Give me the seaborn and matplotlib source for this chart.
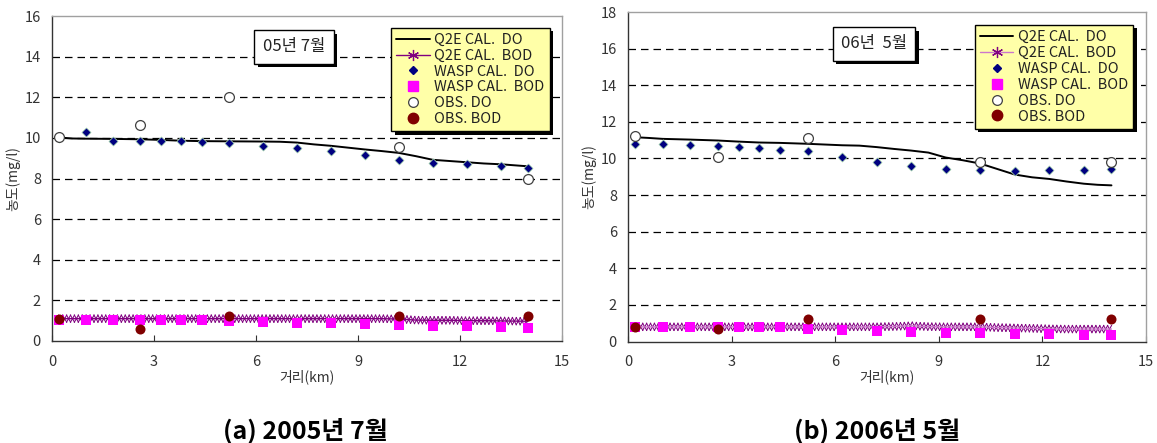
import numpy as np
import seaborn as sns
import matplotlib.pyplot as plt
import matplotlib.patheffects as pe
from matplotlib.lines import Line2D

# ---- data ----
# model (Q2E) output stations, km
q2e_x = [0.2, 0.6, 1.0, 1.8, 2.6, 3.2, 3.8, 4.4, 5.2, 6.2, 6.7, 7.2, 7.7, 8.2,
         8.7, 9.2, 9.7, 10.2, 10.7, 11.2, 11.7, 12.2, 12.7, 13.2, 13.6, 14.0]

q2e_do_05 = [10.02, 9.97, 9.96, 9.95, 9.93, 9.90, 9.86, 9.84, 9.83, 9.82, 9.81, 9.77, 9.68, 9.61,
             9.52, 9.43, 9.35, 9.26, 9.10, 8.92, 8.86, 8.80, 8.74, 8.70, 8.65, 8.60]
q2e_bod_05 = [1.10, 1.10, 1.10, 1.10, 1.10, 1.10, 1.10, 1.10, 1.10, 1.10, 1.10, 1.10, 1.10, 1.10,
              1.10, 1.10, 1.10, 1.08, 1.03, 1.02, 1.02, 1.00, 1.00, 0.99, 0.98, 0.97]

q2e_do_06 = [11.16, 11.12, 11.07, 11.03, 10.98, 10.92, 10.87, 10.85, 10.80, 10.72, 10.70, 10.62, 10.52, 10.43,
             10.32, 10.05, 9.90, 9.72, 9.42, 9.12, 8.97, 8.88, 8.74, 8.62, 8.56, 8.53]
q2e_bod_06 = [0.80, 0.80, 0.80, 0.80, 0.80, 0.80, 0.80, 0.80, 0.80, 0.80, 0.80, 0.80, 0.82, 0.86,
              0.81, 0.80, 0.80, 0.80, 0.76, 0.74, 0.72, 0.69, 0.68, 0.68, 0.68, 0.68]

# WASP segments, km
wasp_x = [0.2, 1.0, 1.8, 2.6, 3.2, 3.8, 4.4, 5.2, 6.2, 7.2, 8.2, 9.2, 10.2, 11.2, 12.2, 13.2, 14.0]

wasp_do_05 = [9.97, 10.27, 9.87, 9.87, 9.87, 9.87, 9.79, 9.75, 9.61, 9.48, 9.35, 9.18, 8.90, 8.77, 8.70, 8.60, 8.50]
wasp_bod_05 = [1.05, 1.05, 1.05, 1.05, 1.05, 1.05, 1.05, 0.99, 0.95, 0.90, 0.90, 0.86, 0.79, 0.74, 0.74, 0.69, 0.65]

wasp_do_06 = [10.80, 10.78, 10.73, 10.69, 10.64, 10.59, 10.48, 10.39, 10.10, 9.82, 9.60, 9.43, 9.37, 9.32, 9.37, 9.37, 9.45]
wasp_bod_06 = [0.80, 0.80, 0.80, 0.80, 0.80, 0.80, 0.80, 0.71, 0.65, 0.60, 0.54, 0.49, 0.45, 0.41, 0.41, 0.36, 0.36]

# observation stations, km
obs_x = [0.2, 2.6, 5.2, 10.2, 14.0]
obs_do_05 = [10.05, 10.62, 12.0, 9.53, 8.0]
obs_bod_05 = [1.10, 0.58, 1.22, 1.22, 1.22]
obs_do_06 = [11.20, 10.10, 11.10, 9.82, 9.80]
obs_bod_06 = [0.80, 0.69, 1.21, 1.21, 1.21]

labels = ["Q2E CAL.  DO", "Q2E CAL.  BOD", "WASP CAL.  DO", "WASP CAL.  BOD", "OBS. DO", "OBS. BOD"]

sns.set_style("white")
plt.rcParams['font.family'] = ['Noto Sans CJK KR', 'DejaVu Sans']

fig = plt.figure(figsize=(11.57, 4.43), dpi=100)
ax1 = fig.add_axes([52 / 1157, 1 - 341 / 443, 510 / 1157, 325 / 443])
ax2 = fig.add_axes([628 / 1157, 1 - 341.5 / 443, 518 / 1157, 329.5 / 443])


def ticked(color):
    # dense asterisk-like markers of the Q2E BOD curve
    return [pe.TickedStroke(spacing=2.8, angle=a, length=1.1, linewidth=0.75, foreground=color)
            for a in (60, -120, 120, -60)] + [pe.Normal()]


def panel(ax, do_q, bod_q, do_w, bod_w, do_o, bod_o, ymax, tag, bod_line, bod_mark, leg_anchor, tag_pos):
    for y in np.arange(2, ymax, 2):
        ax.axhline(y, color='black', lw=0.9, ls=(0, (6, 4)), zorder=0)

    sns.lineplot(x=q2e_x, y=bod_q, ax=ax, color=bod_line, lw=1.0, sort=False,
                 path_effects=ticked(bod_mark), zorder=2)
    sns.lineplot(x=q2e_x, y=do_q, ax=ax, color='black', lw=1.4, sort=False, zorder=3)
    sns.scatterplot(x=wasp_x, y=do_w, ax=ax, marker='D', s=22, color='#000080',
                    edgecolor='#b8e8b8', linewidth=0.5, zorder=4)
    sns.scatterplot(x=wasp_x, y=bod_w, ax=ax, marker='s', s=48, color='#ff00ff',
                    edgecolor='#ff00ff', linewidth=0, zorder=4)
    sns.scatterplot(x=obs_x, y=do_o, ax=ax, marker='o', s=50, facecolor='white',
                    edgecolor='#404040', linewidth=0.9, zorder=5)
    sns.scatterplot(x=obs_x, y=bod_o, ax=ax, marker='o', s=52, color='#800000',
                    edgecolor='#800000', linewidth=0, zorder=5)

    ax.set_xlim(0, 15)
    ax.set_ylim(0, ymax)
    ax.set_xticks([0, 3, 6, 9, 12, 15])
    ax.set_yticks(np.arange(0, ymax + 1, 2))
    ax.tick_params(axis='both', labelsize=10.5, labelcolor='#333333', direction='in',
                   length=4, width=0.8, color='#333333', left=True, bottom=True)
    ax.tick_params(axis='x', pad=10)
    ax.tick_params(axis='y', pad=8, length=0)
    ax.set_xlabel("거리(km)", fontsize=10, color='#333333', labelpad=0)
    ax.set_ylabel("농도(mg/l)", fontsize=10, color='#333333', labelpad=3)
    for s in ['left', 'bottom']:
        ax.spines[s].set_color('#333333')
        ax.spines[s].set_linewidth(1.0)
    for s in ['top', 'right']:
        ax.spines[s].set_color('#a0a0a0')
        ax.spines[s].set_linewidth(1.0)

    handles = [
        Line2D([], [], color='black', lw=1.4),
        Line2D([], [], color=bod_line, lw=1.0, marker=(6, 2, 0), ms=8, mec=bod_mark, mew=0.9),
        Line2D([], [], ls='none', marker='D', ms=4.5, color='#000080'),
        Line2D([], [], ls='none', marker='s', ms=7.5, color='#ff00ff'),
        Line2D([], [], ls='none', marker='o', ms=7, mfc='white', mec='#404040', mew=0.9),
        Line2D([], [], ls='none', marker='o', ms=7.5, color='#800000'),
    ]
    leg = ax.legend(handles, labels, loc='upper right', bbox_to_anchor=leg_anchor, borderaxespad=0,
                    fontsize=10.5, labelspacing=0.13, handlelength=2.3, handletextpad=0.3,
                    borderpad=0.35, fancybox=False, framealpha=1, facecolor='#ffffa8',
                    edgecolor='black', labelcolor='#222222')
    leg.get_frame().set_linewidth(1.0)
    leg.get_frame().set_path_effects([pe.withSimplePatchShadow(offset=(2.5, -2.5),
                                                               shadow_rgbFace='black', alpha=1.0)])
    leg.set_zorder(10)

    t = ax.text(tag_pos[0], tag_pos[1], tag, transform=ax.transAxes, ha='center', va='center',
                fontsize=12, color='#222222', zorder=10,
                bbox=dict(boxstyle='square,pad=0.5', fc='white', ec='black', lw=1.0))
    t.get_bbox_patch().set_path_effects([pe.withSimplePatchShadow(offset=(2.5, -2.5),
                                                                   shadow_rgbFace='black', alpha=1.0)])


panel(ax1, q2e_do_05, q2e_bod_05, wasp_do_05, wasp_bod_05, obs_do_05, obs_bod_05, 16,
      "05년 7월", '#800080', '#800080', (0.976, 0.964), (0.4745, 0.905))
panel(ax2, q2e_do_06, q2e_bod_06, wasp_do_06, wasp_bod_06, obs_do_06, obs_bod_06, 18,
      "06년  5월", '#cc77cc', '#800080', (0.975, 0.9605), (0.475, 0.903))

fig.text(305 / 1157, 1 - 430 / 443, "(a) 2005년 7월", ha='center', va='center',
         fontsize=18, fontweight='bold', color='black')
fig.text(877 / 1157, 1 - 430 / 443, "(b) 2006년 5월", ha='center', va='center',
         fontsize=18, fontweight='bold', color='black')

fig.savefig("out.png", dpi=100)
